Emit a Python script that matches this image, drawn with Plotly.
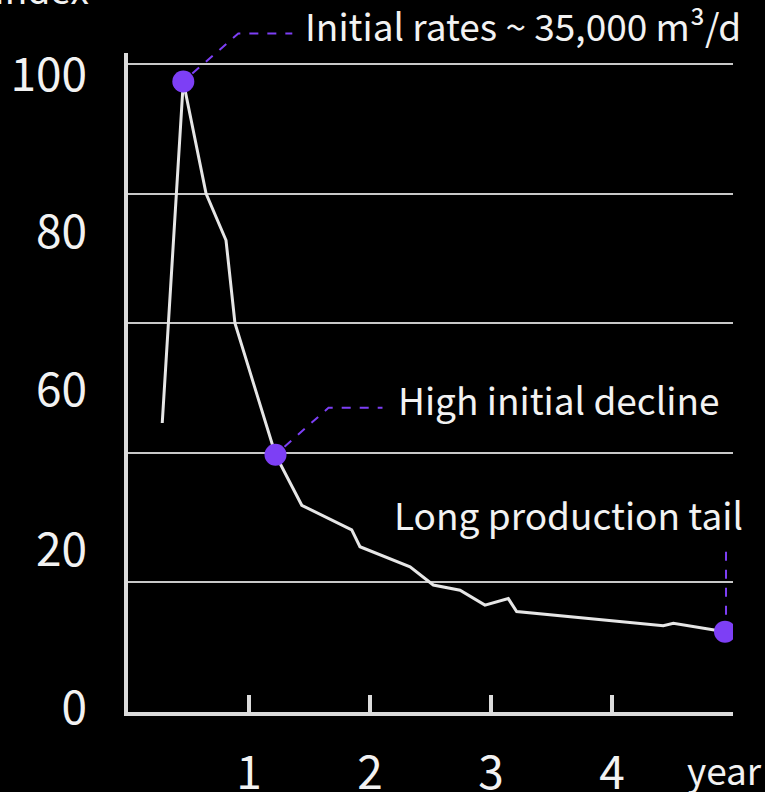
import plotly.graph_objects as go

# data (years, production index)
years = [0.283, 0.457, 0.645, 0.810, 0.884, 1.219, 1.436, 1.849, 1.917, 2.331,
         2.523, 2.744, 2.950, 3.143, 3.212, 4.424, 4.507, 4.934]
index_vals = [44.6, 97.3, 80.0, 72.8, 60.0, 39.7, 31.9, 28.1, 25.5, 22.4,
              19.6, 18.8, 16.5, 17.5, 15.5, 13.3, 13.7, 12.4]

highlight_idx = [1, 5, 17]
callout_texts = ["Initial rates ~ 35,000 m³/d", "High initial decline", "Long production tail"]

x_tickvals = [1, 2, 3, 4, 5]
x_ticktext = ["1", "2", "3", "4", " "]
y_label_pos = [0.6, 25.0, 49.7, 74.1, 98.3]
y_label_text = ["0", "20", "60", "80", "100"]

FONT = "Noto Sans CJK SC"
WHITE = "#f2f2f2"
LINE = "#e6e6e6"
PURPLE = "#7d3ff5"
XMAX = 5
YMAX = 101.7

fig = go.Figure()
fig.add_trace(go.Scatter(x=years, y=index_vals, mode="lines",
                         line=dict(color=LINE, width=3), hoverinfo="skip"))
fig.add_trace(go.Scatter(x=[years[i] for i in highlight_idx],
                         y=[index_vals[i] for i in highlight_idx],
                         mode="markers", marker=dict(color=PURPLE, size=22),
                         hoverinfo="skip"))
fig.add_trace(go.Scatter(x=years, y=index_vals, mode="lines", yaxis="y2",
                         line=dict(color="rgba(0,0,0,0)", width=1), hoverinfo="skip"))

# leader paths (pixel offsets from each highlighted point, positive y = up)
leaders = ["M 9 8 L 55 48 L 109 48", "M 9 8 L 53 47 L 107 47", "M 1 17 L 1 80"]
text_shift = [(120, 57, "left"), (120, 56, "left"), (-157, 118, "center")]
for k, i in enumerate(highlight_idx):
    fig.add_shape(type="path", xref="paper", yref="paper", xsizemode="pixel", ysizemode="pixel",
                  xanchor=years[i] / XMAX, yanchor=index_vals[i] / YMAX, path=leaders[k],
                  line=dict(color=PURPLE, width=2, dash="dash"), layer="above")
    dx, dy, anc = text_shift[k]
    fig.add_annotation(x=years[i], y=index_vals[i], xref="x", yref="y",
                       text=callout_texts[k], showarrow=False,
                       xanchor=anc, yanchor="middle", xshift=dx, yshift=dy,
                       font=dict(family=FONT, size=37, color=WHITE))

fig.add_annotation(x=5, y=0, xref="x", yref="paper", text="year", showarrow=False,
                   xanchor="center", yanchor="middle", xshift=-9, yshift=-57,
                   font=dict(family=FONT, size=37, color=WHITE))
fig.add_annotation(x=0, y=1, xref="paper", yref="paper", text="Index", showarrow=False,
                   xanchor="left", yanchor="bottom", xshift=-136, yshift=36,
                   font=dict(family=FONT, size=37, color=WHITE))

fig.update_layout(
    width=765, height=792,
    margin=dict(l=128, r=32, t=53, b=80, autoexpand=False),
    paper_bgcolor="black", plot_bgcolor="black",
    showlegend=False,
    font=dict(family=FONT, color=WHITE),
    xaxis=dict(range=[0, XMAX], tickvals=x_tickvals, ticktext=x_ticktext, automargin=False,
               ticks="inside", ticklen=17, tickwidth=4, tickcolor="#dcdcdc",
               showline=True, linewidth=4, linecolor="#dcdcdc",
               showgrid=False, zeroline=False, ticklabelstandoff=18,
               tickfont=dict(family=FONT, size=46, color=WHITE)),
    yaxis=dict(range=[0, YMAX], dtick=20, tick0=0, showgrid=True, automargin=False,
               gridcolor="#c8c8c8", gridwidth=1.5, showticklabels=False, ticks="",
               showline=True, linewidth=4, linecolor="#dcdcdc", zeroline=False),
    yaxis2=dict(range=[0, YMAX], overlaying="y", side="left", tickvals=y_label_pos,
                ticktext=y_label_text, showgrid=False, showline=False, ticks="",
                zeroline=False, ticklabelstandoff=40, automargin=False,
                tickfont=dict(family=FONT, size=46, color=WHITE)),
)

fig.write_html("out.html", config={"displayModeBar": False},
               post_script="document.body.style.margin='0';")
